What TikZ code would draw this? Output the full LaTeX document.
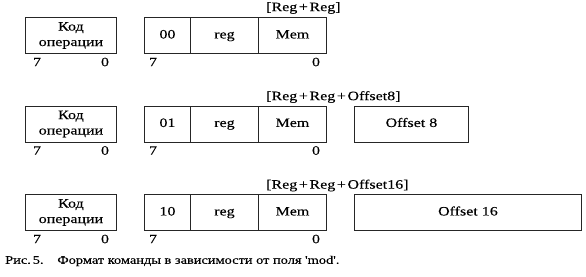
\documentclass[tikz,border=0pt]{standalone}
\usepackage{fontspec}
\setmainfont{Liberation Serif}[FakeStretch=1.25, FakeBold=0.15, Ligatures=TeXOff]
\begin{document}
\begin{tikzpicture}[x=1pt,y=-1pt,
  fieldbox/.style={draw=black!85, line width=0.9pt, rectangle, inner sep=0pt,
    minimum height=36pt, anchor=north west, align=center,
    font=\fontsize{12.8}{15.5}\selectfont},
  onefield/.style={fieldbox, text height=9pt, text depth=3pt},
  bitlabel/.style={inner sep=0pt, font=\fontsize{12.8}{15}\selectfont},
  addrlabel/.style={inner sep=0pt, anchor=west, font=\fontsize{12.8}{15}\selectfont},
  caption/.style={inner sep=0pt, anchor=west, font=\fontsize{11.5}{14}\selectfont}]
\useasboundingbox (0,0) rectangle (586,276);
\fill[white] (0,0) rectangle (586,276);
\newcommand{\plusgap}{\hspace{1.6pt}+\hspace{1.6pt}}

% Row 1: mod = 00
\node[fieldbox, minimum width=91pt] (op1) at (25,17) {Код\\операции};
\node[onefield, minimum width=46pt] (md1) at (144,17) {00};
\node[onefield, minimum width=68pt] (rg1) at (190,17) {reg};
\node[onefield, minimum width=68pt] (mm1) at (258,17) {Mem};
\node[addrlabel] (ad1) at (266,8) {[Reg\plusgap Reg]};
\node[bitlabel] (opa1) at (37,62) {7};
\node[bitlabel] (opb1) at (105,62) {0};
\node[bitlabel] (mda1) at (153,62) {7};
\node[bitlabel] (mdb1) at (316,62) {0};

% Row 2: mod = 01
\node[fieldbox, minimum width=91pt] (op2) at (25,105.5) {Код\\операции};
\node[onefield, minimum width=46pt] (md2) at (144,105.5) {01};
\node[onefield, minimum width=68pt] (rg2) at (190,105.5) {reg};
\node[onefield, minimum width=68pt] (mm2) at (258,105.5) {Mem};
\node[onefield, minimum width=114pt] (of2) at (354,105.5) {Offset 8};
\node[addrlabel] (ad2) at (266,97) {[Reg\plusgap Reg\plusgap Offset8]};
\node[bitlabel] (opa2) at (37,150.5) {7};
\node[bitlabel] (opb2) at (105,150.5) {0};
\node[bitlabel] (mda2) at (153,150.5) {7};
\node[bitlabel] (mdb2) at (316,150.5) {0};

% Row 3: mod = 10
\node[fieldbox, minimum width=91pt] (op3) at (25,194) {Код\\операции};
\node[onefield, minimum width=46pt] (md3) at (144,194) {10};
\node[onefield, minimum width=68pt] (rg3) at (190,194) {reg};
\node[onefield, minimum width=68pt] (mm3) at (258,194) {Mem};
\node[onefield, minimum width=227pt] (of3) at (354,194) {Offset 16};
\node[addrlabel] (ad3) at (266,185.5) {[Reg\plusgap Reg\plusgap Offset16]};
\node[bitlabel] (opa3) at (37,239) {7};
\node[bitlabel] (opb3) at (105,239) {0};
\node[bitlabel] (mda3) at (153,239) {7};
\node[bitlabel] (mdb3) at (316,239) {0};

% Caption
\node[caption] (cap) at (5,261) {Рис.\,5.\hspace{1.2em}Формат команды в зависимости от поля 'mod'.};
\end{tikzpicture}
\end{document}
